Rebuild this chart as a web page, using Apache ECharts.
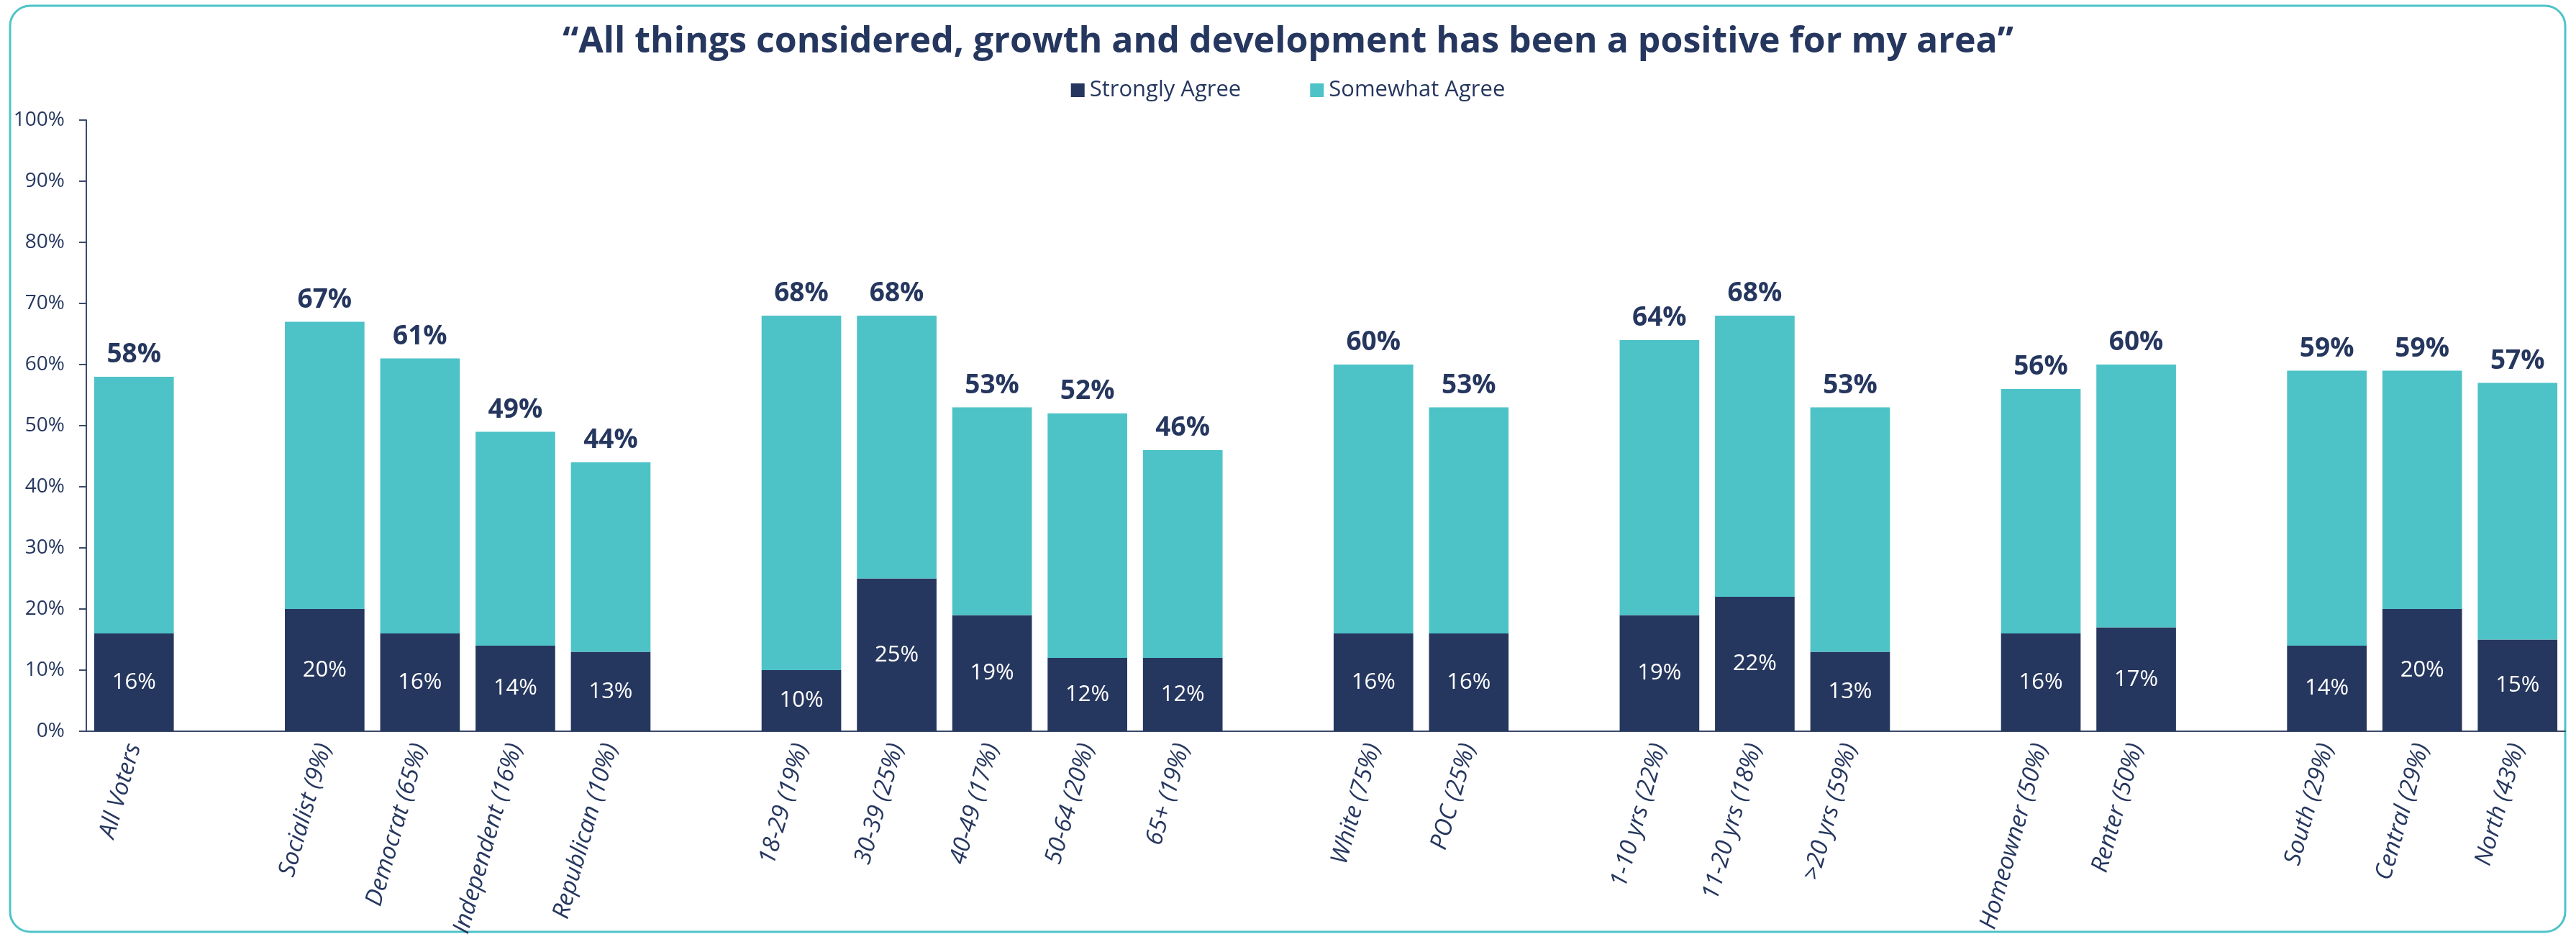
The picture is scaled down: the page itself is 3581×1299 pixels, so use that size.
<!DOCTYPE html>
<html>
<head>
<meta charset="utf-8">
<script src="https://cdn.jsdelivr.net/npm/echarts@6/dist/echarts.min.js"></script>
<style>
  html, body { margin: 0; padding: 0; background: #ffffff; }
  #chart { width: 3581px; height: 1299px; }
</style>
</head>
<body>
<div id="chart"></div>
<script>
// Subgroups, with empty slots separating the groups
const categories = [
  'All Voters', '',
  'Socialist (9%)', 'Democrat (65%)', 'Independent (16%)', 'Republican (10%)', '',
  '18-29 (19%)', '30-39 (25%)', '40-49 (17%)', '50-64 (20%)', '65+ (19%)', '',
  'White (75%)', 'POC (25%)', '',
  '1-10 yrs (22%)', '11-20 yrs (18%)', '>20 yrs (59%)', '',
  'Homeowner (50%)', 'Renter (50%)', '',
  'South (29%)', 'Central (29%)', 'North (43%)'
];

// Share answering "Strongly Agree" (%)
const stronglyAgree = [
  16, null,
  20, 16, 14, 13, null,
  10, 25, 19, 12, 12, null,
  16, 16, null,
  19, 22, 13, null,
  16, 17, null,
  14, 20, 15
];

// Share answering "Somewhat Agree" (%)
const somewhatAgree = [
  42, null,
  47, 45, 35, 31, null,
  58, 43, 34, 40, 34, null,
  44, 37, null,
  45, 46, 40, null,
  40, 43, null,
  45, 39, 42
];

const yTicks = [0, 10, 20, 30, 40, 50, 60, 70, 80, 90, 100];

const NAVY = '#26375f';
const TEAL = '#4dc3c8';
const FONT = '"Open Sans", "Noto Sans", sans-serif';

const chart = echarts.init(document.getElementById('chart'), null, { renderer: 'canvas' });

chart.setOption({
  backgroundColor: '#ffffff',
  animation: false,
  textStyle: { fontFamily: FONT },
  graphic: [{
    type: 'rect',
    shape: { x: 14, y: 8, width: 3552, height: 1288, r: 28 },
    style: { fill: 'none', stroke: TEAL, lineWidth: 3 },
    silent: true
  }],
  title: {
    text: '\u201CAll things considered, growth and development has been a positive for my area\u201D',
    left: 'center',
    top: 29,
    textStyle: { fontFamily: FONT, fontSize: 50, fontWeight: 'bold', color: NAVY }
  },
  legend: {
    top: 105,
    left: 'center',
    itemWidth: 19,
    itemHeight: 19,
    itemGap: 96,
    icon: 'rect',
    textStyle: { fontFamily: FONT, fontSize: 31, color: NAVY, padding: [0, 0, 0, 2] },
    data: ['Strongly Agree', 'Somewhat Agree']
  },
  grid: {
    left: 120, right: 15, top: 167, bottom: 282,
    containLabel: false,
    outerBoundsMode: 'none'
  },
  xAxis: {
    type: 'category',
    data: categories,
    axisLine: { lineStyle: { color: '#3b4a6b', width: 2 } },
    axisTick: { show: false },
    axisLabel: {
      interval: 0,
      rotate: 74,
      margin: 18,
      fontFamily: FONT,
      fontSize: 33,
      fontStyle: 'italic',
      color: NAVY
    }
  },
  yAxis: {
    type: 'value',
    min: yTicks[0],
    max: yTicks[yTicks.length - 1],
    interval: 10,
    splitLine: { show: false },
    axisLine: { show: true, lineStyle: { color: '#3b4a6b', width: 2 } },
    axisTick: { show: true, length: 10, lineStyle: { color: '#3b4a6b', width: 2 } },
    axisLabel: {
      formatter: '{value}%',
      margin: 30,
      fontFamily: FONT,
      fontSize: 28,
      color: NAVY
    }
  },
  series: [
    {
      name: 'Strongly Agree',
      type: 'bar',
      stack: 'agree',
      barCategoryGap: '16.5%',
      data: stronglyAgree,
      itemStyle: { color: NAVY },
      label: {
        show: true,
        position: 'inside',
        formatter: p => p.value == null ? '' : p.value + '%',
        fontFamily: FONT,
        fontSize: 31,
        color: '#ffffff'
      }
    },
    {
      name: 'Somewhat Agree',
      type: 'bar',
      stack: 'agree',
      barCategoryGap: '16.5%',
      data: somewhatAgree,
      itemStyle: { color: TEAL },
      label: {
        show: true,
        position: 'top',
        distance: 12,
        formatter: p => {
          if (p.value == null) return '';
          return (stronglyAgree[p.dataIndex] + p.value) + '%';
        },
        fontFamily: FONT,
        fontSize: 37,
        fontWeight: 'bold',
        color: NAVY
      }
    }
  ]
});
</script>
</body>
</html>
